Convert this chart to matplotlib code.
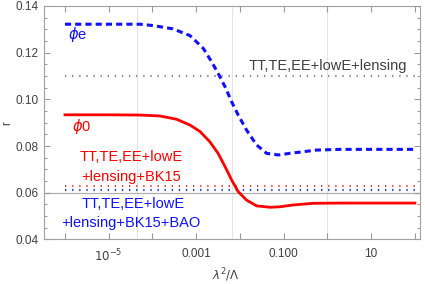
import numpy as np
import matplotlib.pyplot as plt
from matplotlib.ticker import FixedLocator, MultipleLocator, FixedFormatter

plt.rcParams['font.family'] = ['Liberation Sans', 'DejaVu Sans']
plt.rcParams['mathtext.fontset'] = 'dejavusans'

# phi-e curve (blue dashed); x given as log10(lambda^2/Lambda)
phie_logx = [-6.0, -5.0, -4.29, -3.98, -3.53, -3.14, -2.84, -2.65, -2.50,
             -2.34, -2.19, -2.04, -1.85, -1.62, -1.39, -1.12, -0.86,
             -0.55, -0.25, 0.29, 1.0, 2.0]
phie_r = [0.1322, 0.1322, 0.1322, 0.1316, 0.1302, 0.1273, 0.1219, 0.1162, 0.1112,
          0.1054, 0.0990, 0.0933, 0.0869, 0.0805, 0.0769, 0.0762, 0.0769,
          0.0776, 0.0783, 0.0786, 0.0786, 0.0786]

# phi-0 curve (red solid)
phi0_logx = [-6.0, -5.0, -4.29, -3.83, -3.45, -3.14, -2.91, -2.69, -2.50,
             -2.34, -2.19, -2.04, -1.85, -1.62, -1.31, -1.09, -0.78,
             -0.32, 0.29, 1.0, 2.0]
phi0_r = [0.0934, 0.0934, 0.0933, 0.0929, 0.0915, 0.0890, 0.0862, 0.0819, 0.0769,
          0.0712, 0.0655, 0.0605, 0.0569, 0.0544, 0.0538, 0.0540, 0.0548,
          0.0555, 0.0556, 0.0556, 0.0556]

# observational upper bounds on r
bound_lensing = 0.11
bound_bk15 = 0.063
bound_bao = 0.061

xticks = [1e-6, 1e-5, 1e-4, 1e-3, 1e-2, 1e-1, 1, 10, 100]
xticklabels = ['', r'$10^{-5}$', '', '0.001', '', '0.100', '', '10', '']
yticks = [0.04, 0.06, 0.08, 0.10, 0.12, 0.14]
yticklabels = ['0.04', '0.06', '0.08', '0.10', '0.12', '0.14']

fig = plt.figure(figsize=(4.25, 2.84), dpi=100)
ax = fig.add_axes([0.1024, 0.1567, 0.8856, 0.8222])
ax.set_xscale('log')
ax.set_xlim(10**-6.49, 10**2.114)
ax.set_ylim(0.04, 0.14)

for g in [10**-4.35, 10**-2.17, 1.0]:
    ax.axvline(g, color='#e4e4e4', lw=0.8, zorder=0)
ax.axhline(0.06, color='#b0b0b0', lw=0.9, zorder=0.5)

xs = [1e-6, 100]
dots = (0, (0.6, 2.6))
ax.plot(xs, [bound_lensing] * 2, color='#8a8a8a', lw=1.6, ls=dots, dash_capstyle='butt')
ax.plot(xs, [bound_bk15] * 2, color='#ff4040', lw=1.6, ls=dots, dash_capstyle='butt')
ax.plot(xs, [bound_bao] * 2, color='#2030ff', lw=1.6, ls=dots, dash_capstyle='butt')

ax.plot(np.power(10.0, phie_logx), phie_r, color='#1010ff', lw=2.2, ls=(0, (2.0, 1.35)))
ax.plot(np.power(10.0, phi0_logx), phi0_r, color='#ff0000', lw=2.0)

ax.text(10**-5.93, 0.1276, r'$\phi$e', color='#1010ff', fontsize=10.5, va='center', ha='left')
ax.text(10**-5.84, 0.0883, r'$\phi$0', color='#ff0000', fontsize=10.5, va='center', ha='left')
ax.text(10**0.01, 0.1141, 'TT,TE,EE+lowE+lensing', color='#404040', fontsize=10.5,
        va='center', ha='center')
ax.text(10**-4.49, 0.0753, 'TT,TE,EE+lowE', color='#ff0000', fontsize=10.5, va='center', ha='center')
ax.text(10**-4.49, 0.0668, '+lensing+BK15', color='#ff0000', fontsize=10.5, va='center', ha='center')
ax.text(10**-4.45, 0.0553, 'TT,TE,EE+lowE', color='#1010ff', fontsize=10.5, va='center', ha='center')
ax.text(10**-4.49, 0.0470, '+lensing+BK15+BAO', color='#1010ff', fontsize=10.5, va='center', ha='center')

ax.xaxis.set_major_locator(FixedLocator(xticks))
ax.xaxis.set_major_formatter(FixedFormatter(xticklabels))
ax.xaxis.set_minor_locator(FixedLocator([]))
ax.yaxis.set_major_locator(FixedLocator(yticks))
ax.yaxis.set_major_formatter(FixedFormatter(yticklabels))
ax.yaxis.set_minor_locator(MultipleLocator(0.005))

ax.tick_params(which='both', direction='in', top=True, right=True, labelsize=8.5,
               labelcolor='#404040', color='#999999', width=0.8)
ax.tick_params(which='major', length=4)
ax.tick_params(which='minor', length=2.5)
ax.tick_params(axis='x', pad=6)
for s in ax.spines.values():
    s.set_color('#a0a0a0')
    s.set_linewidth(0.8)

ax.set_xlabel(r'$\lambda^2/\Lambda$', color='#404040', fontsize=8.5, va='center')
ax.xaxis.set_label_coords(0.485, -0.152)
ax.set_ylabel('r', color='#404040', fontsize=8.5, va='center')
ax.yaxis.set_label_coords(-0.097, 0.5)

fig.savefig('out.png', dpi=100)
